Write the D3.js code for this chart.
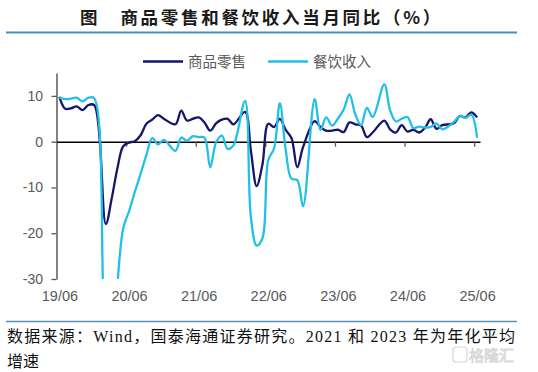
<!DOCTYPE html>
<html>
<head>
<meta charset="utf-8">
<script src="https://cdn.jsdelivr.net/npm/d3@7"></script>
<style>
  html, body { margin: 0; padding: 0; background: #fff; }
  svg { display: block; }
</style>
</head>
<body>
<div id="chart"></div>
<script>
// months 19/06 .. 25/06, January has no figure (Jan-Feb are reported together)
var categories = [];
for (var yy = 19; yy <= 25; yy++) {
  for (var mm = 1; mm <= 12; mm++) {
    if ((yy === 19 && mm < 6) || (yy === 25 && mm > 6)) continue;
    categories.push(yy + '/' + (mm < 10 ? '0' + mm : mm));
  }
}

// 商品零售
var retailValues = [
  9.8, 7.2, 7.3, 7.7, 6.9, 8.0, 8.0,
  null, -18.0, -12.5, -5.8, -1.0, -0.2, 0.1, 1.4, 3.9, 4.8, 5.8, 5.0,
  null, 3.8, 6.8, 4.6, 5.0, 5.3, 4.2, 2.4, 4.0, 4.8, 5.0, 3.8,
  null, 6.5, -1.9, -9.7, -5.0, 3.9, 3.2, 5.0, 2.6, 0.8, -5.6, -1.2,
  null, 4.5, 3.2, 2.4, 2.4, 2.6, 2.1, 4.2, 3.8, 3.5, 1.0, 2.0,
  null, 4.6, 2.7, 2.0, 3.6, 2.2, 2.6, 2.0, 3.0, 4.9, 2.8, 3.6,
  null, 4.0, 5.6, 5.3, 6.4, 5.3
];

// 餐饮收入
var cateringValues = [
  9.6, 9.3, 9.4, 9.6, 8.8, 9.6, 9.5,
  null, -43.1, -46.8, -31.1, -18.9, -15.2, -11.0, -7.0, -2.9, 0.8, -0.6, 0.4,
  null, -2.0, 0.9, 0.2, 1.2, 1.0, 0.9, -5.6, -0.2, 1.3, -1.6, -0.8,
  null, 8.9, -16.4, -22.7, -21.1, -4.0, -1.5, 8.4, -1.7, -8.1, -8.4, -14.1,
  null, 9.3, 2.6, 5.3, 3.5, 5.0, 7.0, 10.3, 6.0, 3.6, 7.4, 5.4,
  null, 12.5, 6.9, 4.4, 5.0, 5.4, 3.0, 3.3, 3.1, 3.2, 4.0, 2.7,
  null, 4.3, 5.6, 5.2, 5.9, 0.9
];

var yTicks = [10, 0, -10, -20, -30];
var xTickLabels = ['19/06', '20/06', '21/06', '22/06', '23/06', '24/06', '25/06'];
var seriesNames = ['商品零售', '餐饮收入'];

var W = 538, H = 372;
var plotLeft = 56.5, plotRight = 480, plotTop = 73, plotBottom = 279;
var navy = '#15156a', cyan = '#22bfe9', grey = '#595959';

var svg = d3.select('#chart').append('svg')
  .attr('width', W)
  .attr('height', H);

// title + rules
svg.append('text')
  .attr('x', 80)
  .attr('y', 24)
  .attr('font-family', '"Noto Sans CJK SC", sans-serif')
  .attr('font-weight', 700)
  .attr('font-size', 17.5)
  .attr('letter-spacing', 2.7)
  .attr('fill', '#1a1a1a')
  .text('图　商品零售和餐饮收入当月同比（%）');

svg.append('line')
  .attr('x1', 6).attr('x2', 517)
  .attr('y1', 32.5).attr('y2', 32.5)
  .style('stroke', '#4b8dc0')
  .style('stroke-width', 2.2);

svg.append('line')
  .attr('x1', 6).attr('x2', 517)
  .attr('y1', 321.5).attr('y2', 321.5)
  .style('stroke', '#5a90b8')
  .style('stroke-width', 1.6);

var x = d3.scalePoint()
  .domain(categories)
  .range([plotLeft, plotRight])
  .padding(0.5);

var xb = d3.scaleLinear()
  .domain([0, categories.length])
  .range([plotLeft, plotRight]);

var y = d3.scaleLinear()
  .domain([-30, 15])
  .range([plotBottom, plotTop]);

// y axis
var yAxis = svg.append('g')
  .attr('transform', 'translate(' + plotLeft + ',0)')
  .call(d3.axisLeft(y).tickValues(yTicks).tickSize(5).tickSizeOuter(0).tickPadding(8.5)
    .tickFormat(function (d) { return d; }));
yAxis.select('.domain').style('stroke', grey).style('stroke-width', 1.5);
yAxis.selectAll('.tick line').style('stroke', grey).style('stroke-width', 1.3);
yAxis.selectAll('.tick text')
  .attr('font-family', '"Liberation Sans", Arial, sans-serif')
  .attr('font-size', 14)
  .attr('fill', grey);

// zero line with yearly tick marks
var zeroAxis = svg.append('g')
  .attr('transform', 'translate(0,' + y(0) + ')')
  .call(d3.axisBottom(xb).tickValues(d3.range(12, categories.length + 1, 12))
    .tickSize(5).tickSizeOuter(0).tickFormat(''));
zeroAxis.select('.domain').style('stroke', '#000').style('stroke-width', 1.5);
zeroAxis.selectAll('.tick line').style('stroke', grey).style('stroke-width', 1.3);

// category labels at the bottom
var xAxis = svg.append('g')
  .attr('transform', 'translate(0,' + plotBottom + ')')
  .call(d3.axisBottom(x).tickValues(xTickLabels).tickSize(0).tickPadding(12));
xAxis.select('.domain').remove();
xAxis.selectAll('.tick text')
  .attr('font-family', '"Liberation Sans", Arial, sans-serif')
  .attr('font-size', 14.5)
  .attr('fill', grey);

// lines
svg.append('clipPath').attr('id', 'plotclip')
  .append('rect')
  .attr('x', plotLeft).attr('y', plotTop - 5)
  .attr('width', plotRight - plotLeft + 5).attr('height', plotBottom - plotTop + 5);

var line = d3.line()
  .x(function (d) { return x(d.cat); })
  .y(function (d) { return y(d.v); })
  .curve(d3.curveCatmullRom.alpha(0.5));

function points(values) {
  return categories.map(function (c, i) { return { cat: c, v: values[i] }; })
    .filter(function (d) { return d.v !== null; });
}

var plot = svg.append('g').attr('clip-path', 'url(#plotclip)');
plot.append('path')
  .datum(points(retailValues))
  .attr('d', line)
  .style('fill', 'none')
  .style('stroke', navy)
  .style('stroke-width', 2.3)
  .style('stroke-linejoin', 'round');
plot.append('path')
  .datum(points(cateringValues))
  .attr('d', line)
  .style('fill', 'none')
  .style('stroke', cyan)
  .style('stroke-width', 2.3)
  .style('stroke-linejoin', 'round');

// legend
var legend = [
  { name: seriesNames[0], color: navy, x0: 143 },
  { name: seriesNames[1], color: cyan, x0: 268 }
];
var lg = svg.selectAll('.lg').data(legend).enter().append('g').attr('class', 'lg');
lg.append('line')
  .attr('x1', function (d) { return d.x0; })
  .attr('x2', function (d) { return d.x0 + 40; })
  .attr('y1', 61.5).attr('y2', 61.5)
  .style('stroke', function (d) { return d.color; })
  .style('stroke-width', 2.5);
lg.append('text')
  .attr('x', function (d) { return d.x0 + 45; })
  .attr('y', 61.5)
  .attr('dy', '0.35em')
  .attr('font-family', '"Noto Sans CJK SC", sans-serif')
  .attr('font-size', 14.5)
  .attr('fill', grey)
  .text(function (d) { return d.name; });

// source note
var note = svg.append('g')
  .attr('font-family', '"Liberation Serif", "Noto Sans CJK SC", serif')
  .attr('font-size', 16)
  .attr('fill', '#111');
note.append('text')
  .attr('x', 7).attr('y', 342)
  .attr('textLength', 508)
  .attr('lengthAdjust', 'spacing')
  .text('数据来源：Wind，国泰海通证券研究。2021 和 2023 年为年化平均');
note.append('text')
  .attr('x', 7).attr('y', 367)
  .text('增速');

// watermark
var wm = svg.append('g').attr('opacity', 0.55);
wm.append('rect')
  .attr('x', 453).attr('y', 347)
  .attr('width', 14).attr('height', 15).attr('rx', 3)
  .style('fill', 'none').style('stroke', '#b8b8b8').style('stroke-width', 1.2);
wm.append('text')
  .attr('x', 469).attr('y', 361)
  .attr('font-family', '"Noto Sans CJK SC", sans-serif')
  .attr('font-size', 15)
  .style('fill', '#fff')
  .style('stroke', '#b8b8b8')
  .style('stroke-width', 0.9)
  .text('格隆汇');
</script>
</body>
</html>
